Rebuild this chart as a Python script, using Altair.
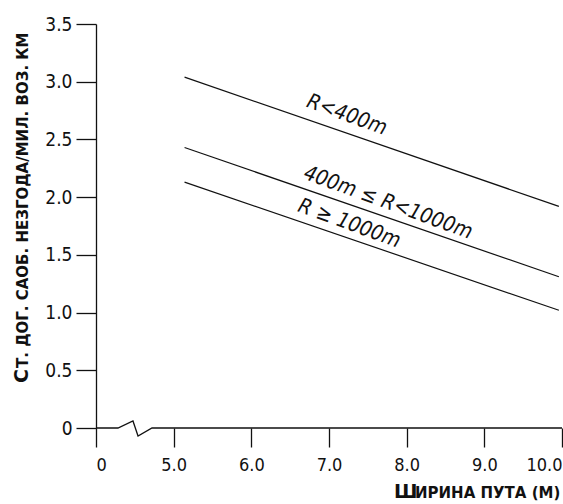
import altair as alt
import pandas as pd

# ---- data ----
series = ["R<400m", "400m ≤ R<1000m", "R ≥ 1000m"]
x_start = [5.14, 5.14, 5.14]
x_end = [9.96, 9.96, 9.96]
y_start = [3.04, 2.43, 2.13]
y_end = [1.92, 1.31, 1.02]

label_x = [7.23, 7.76, 7.26]
label_y = [2.71, 1.95, 1.77]

x_ticks = [4, 5, 6, 7, 8, 9, 10]          # 4 stands for the broken-axis "0"
y_ticks = [0, 0.5, 1.0, 1.5, 2.0, 2.5, 3.0, 3.5]

break_x = [4.0, 4.283, 4.476, 4.541, 4.721, 10.0]
break_y = [0, 0, 0.061, -0.069, 0, 0]

rows = []
for s, xs, xe, ys, ye in zip(series, x_start, x_end, y_start, y_end):
    rows.append({"series": s, "x": xs, "y": ys, "o": 0})
    rows.append({"series": s, "x": xe, "y": ye, "o": 1})
lines_df = pd.DataFrame(rows)
labels_df = pd.DataFrame({"label": series, "x": label_x, "y": label_y})
break_df = pd.DataFrame({"x": break_x, "y": break_y, "o": list(range(len(break_x)))})

TICK_FONT = "DejaVu Sans Condensed, Roboto Condensed, Roboto, sans-serif"
TITLE_FONT = "DejaVu Sans"

xscale = alt.Scale(domain=[4, 10], nice=False, zero=False)
yscale = alt.Scale(domain=[0, 3.5], nice=False)

xaxis = alt.Axis(values=x_ticks,
                 labelExpr="datum.value == 4 ? '0' : format(datum.value, '.1f')",
                 domain=False, grid=False, tickSize=19, tickColor="#111", tickWidth=1.3,
                 labelFont=TICK_FONT, labelFontSize=18, labelColor="#111", labelPadding=9,
                 title=None)
yaxis = alt.Axis(values=y_ticks,
                 labelExpr="datum.value == 0 ? '0' : format(datum.value, '.1f')",
                 domain=True, domainColor="#111", domainWidth=1.3, grid=False,
                 tickSize=20, tickColor="#111", tickWidth=1.3,
                 labelFont=TICK_FONT, labelFontSize=19, labelColor="#111", labelPadding=4,
                 title=None)

lines = alt.Chart(lines_df).mark_line(color="#111", strokeWidth=1.2).encode(
    x=alt.X("x:Q", scale=xscale, axis=xaxis),
    y=alt.Y("y:Q", scale=yscale, axis=yaxis),
    detail="series:N",
    order="o:Q",
)

xline = alt.Chart(break_df).mark_line(color="#111", strokeWidth=1.3).encode(
    x=alt.X("x:Q", scale=xscale),
    y=alt.Y("y:Q", scale=yscale),
    order="o:Q",
)

labels = alt.Chart(labels_df).mark_text(
    font=TICK_FONT, fontSize=21, fontStyle="italic", angle=20,
    align="center", baseline="middle", color="#111"
).encode(
    x=alt.X("x:Q", scale=xscale),
    y=alt.Y("y:Q", scale=yscale),
    text="label:N",
)

one = alt.Data(values=[{}])
ytitle_big = alt.Chart(one).mark_text(
    text="С", font=TITLE_FONT, fontWeight="bold", fontSize=19, angle=270,
    align="left", baseline="alphabetic", color="#111"
).encode(x=alt.value(-68), y=alt.value(359))
ytitle_rest = alt.Chart(one).mark_text(
    text="Т. ДОГ. САОБ. НЕЗГОДА/МИЛ. ВОЗ. КМ", font=TITLE_FONT, fontWeight="bold",
    fontSize=15, angle=270, align="left", baseline="alphabetic", color="#111"
).encode(x=alt.value(-68), y=alt.value(344))
xtitle_big = alt.Chart(one).mark_text(
    text="Ш", font=TITLE_FONT, fontWeight="bold", fontSize=19,
    align="left", baseline="alphabetic", color="#111"
).encode(x=alt.value(298), y=alt.value(474))
xtitle_rest = alt.Chart(one).mark_text(
    text="ИРИНА ПУТА (М)", font=TITLE_FONT, fontWeight="bold", fontSize=15,
    align="left", baseline="alphabetic", color="#111"
).encode(x=alt.value(319), y=alt.value(474))

chart = alt.layer(
    lines, xline, labels, ytitle_big, ytitle_rest, xtitle_big, xtitle_rest
).properties(
    width=466, height=404,
    autosize=alt.AutoSizeParams(type="none"),
    padding={"left": 96, "top": 24, "right": 1, "bottom": 76},
    background="white",
).configure_view(stroke=None)

chart.save("out.html", embed_options={"renderer": "svg", "actions": False})
